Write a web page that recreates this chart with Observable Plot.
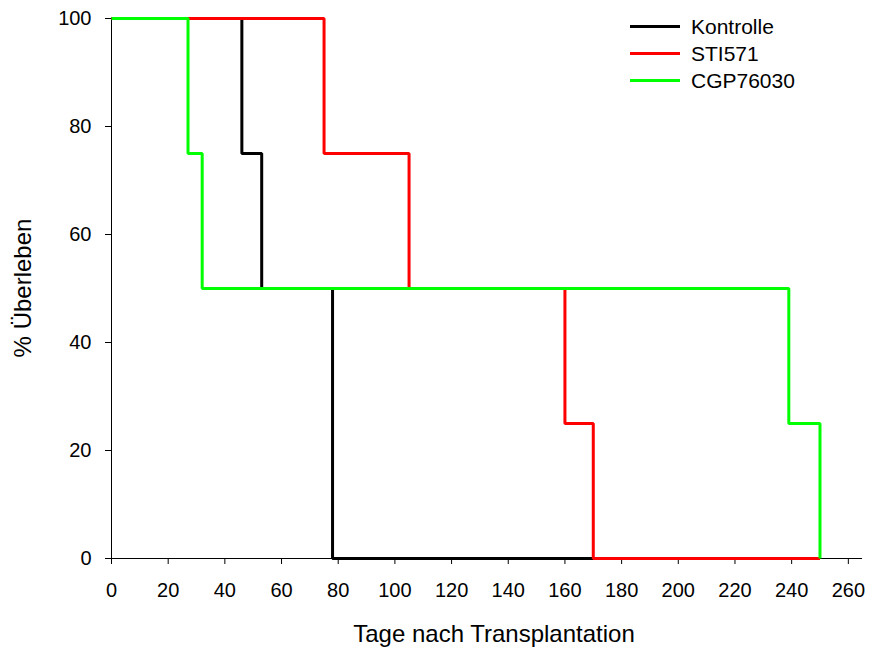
<!DOCTYPE html>
<html>
<head>
<meta charset="utf-8">
<script src="https://cdn.jsdelivr.net/npm/d3@7"></script>
<script src="https://cdn.jsdelivr.net/npm/@observablehq/plot@0.6"></script>
<style>
  html, body { margin: 0; padding: 0; background: #fff; }
  #wrap { position: relative; width: 869px; height: 650px; font-family: "Liberation Sans", Arial, sans-serif; }
  #wrap svg { position: absolute; left: 0; top: 0; }
  .xlabel { position: absolute; left: 494px; top: 620px; transform: translateX(-50%); font-size: 24px; white-space: nowrap; color: #000; }
  .ylabel { position: absolute; left: 23px; top: 288px; transform: translate(-50%, -50%) rotate(-90deg); font-size: 24px; white-space: nowrap; color: #000; }
  .legend { position: absolute; left: 630px; top: 13px; font-size: 21px; color: #000; }
  .legend .row { display: flex; align-items: center; height: 27px; }
  .legend .sw { width: 50px; height: 3px; margin-right: 11px; }
</style>
</head>
<body>
<div id="wrap"></div>
<script>
// Kaplan-Meier step data
const seriesNames = ["Kontrolle", "STI571", "CGP76030"];
const seriesColors = ["#000000", "#ff0000", "#00ff00"];

const kontrolleDays = [0, 46, 53, 78, 170];
const kontrolleSurv = [100, 75, 50, 0, 0];

const sti571Days = [0, 75, 105, 160, 170, 250];
const sti571Surv = [100, 75, 50, 25, 0, 0];

const cgpDays = [0, 27, 32, 239, 250];
const cgpSurv = [100, 75, 50, 25, 0];

const xTicks = [0, 20, 40, 60, 80, 100, 120, 140, 160, 180, 200, 220, 240, 260];
const yTicks = [0, 20, 40, 60, 80, 100];

const allDays = [kontrolleDays, sti571Days, cgpDays];
const allSurv = [kontrolleSurv, sti571Surv, cgpSurv];
const data = [];
seriesNames.forEach((name, i) => {
  allDays[i].forEach((d, j) => data.push({series: name, day: d, surv: allSurv[i][j]}));
});

const chart = Plot.plot({
  width: 869,
  height: 650,
  marginLeft: 111,
  marginRight: 7,
  marginTop: 18,
  marginBottom: 92,
  style: {fontFamily: "Liberation Sans, Arial, sans-serif", fontSize: "20px", color: "#000", background: "transparent"},
  x: {domain: [0, 265], ticks: xTicks, label: null},
  y: {domain: [0, 100], ticks: yTicks, label: null},
  color: {domain: seriesNames, range: seriesColors},
  marks: [
    Plot.ruleY([0], {stroke: "#000", strokeWidth: 1}),
    Plot.ruleX([0], {stroke: "#000", strokeWidth: 1}),
    Plot.axisX({ticks: xTicks, tickSize: 6, tickPadding: 18, fontSize: 20, label: null, stroke: "#000"}),
    Plot.axisY({ticks: yTicks, tickSize: 6, tickPadding: 14, fontSize: 20, label: null, stroke: "#000"}),
    Plot.line(data, {x: "day", y: "surv", z: "series", stroke: "series", strokeWidth: 3, curve: "step-after", strokeLinejoin: "miter", strokeLinecap: "butt"})
  ]
});

const wrap = document.getElementById("wrap");
wrap.appendChild(chart);

const xl = document.createElement("div");
xl.className = "xlabel";
xl.textContent = "Tage nach Transplantation";
wrap.appendChild(xl);

const yl = document.createElement("div");
yl.className = "ylabel";
yl.textContent = "% Überleben";
wrap.appendChild(yl);

const lg = document.createElement("div");
lg.className = "legend";
seriesNames.forEach((n, i) => {
  const row = document.createElement("div");
  row.className = "row";
  const sw = document.createElement("div");
  sw.className = "sw";
  sw.style.background = seriesColors[i];
  const t = document.createElement("span");
  t.textContent = n;
  row.appendChild(sw);
  row.appendChild(t);
  lg.appendChild(row);
});
wrap.appendChild(lg);
</script>
</body>
</html>
